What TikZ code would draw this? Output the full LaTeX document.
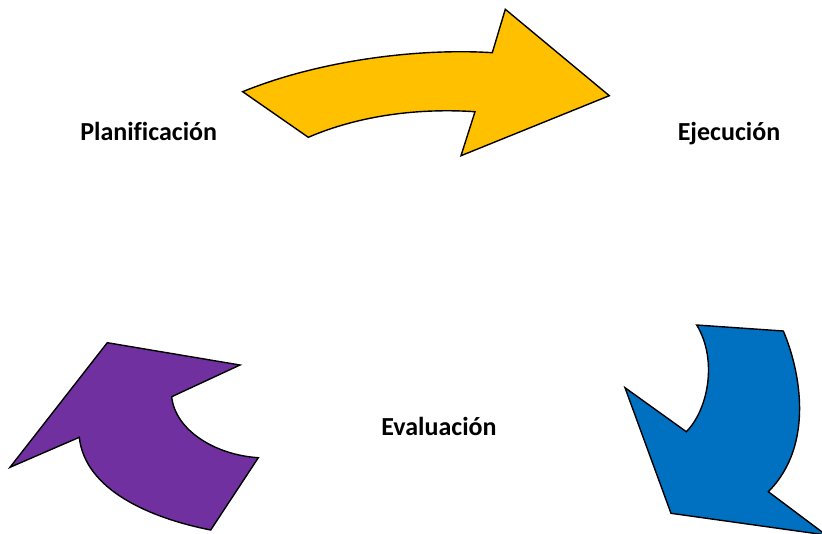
\documentclass[tikz,border=0pt]{standalone}
\usepackage{fontspec}
\setmainfont{Carlito}[Ligatures=NoCommon]
\usepackage{tikz}

\definecolor{amarillo}{HTML}{FFC000}
\definecolor{azul}{HTML}{0070C0}
\definecolor{morado}{HTML}{7030A0}

\begin{document}
\begin{tikzpicture}[x=1pt,y=-1pt]
        \useasboundingbox (0,0) rectangle (822,533);
        \tikzset{flecha/.style={draw=black, line width=1.4pt, line join=miter},
                 etapa/.style={anchor=base, font=\fontsize{26}{31}\selectfont\bfseries}}

        \node[etapa] (plan) at (148.7,140.7) {Planificación};
        \node[etapa] (ejec) at (729,140.7) {Ejecución};
        \node[etapa] (eval) at (439,435.7) {Evaluación};

        % planificacion -> ejecucion
        \draw[flecha, fill=amarillo] (242.7,91.7) -- (308.3,137.3)
            .. controls (360,115) and (420,108) .. (475,111.7)
            -- (461,155.7) -- (609.3,95.7) -- (505.3,9.3) -- (492.3,52.7)
            .. controls (420,48) and (320,60) .. cycle;
        % ejecucion -> evaluacion
        \draw[flecha, fill=azul] (696.7,325) -- (783.3,331)
            .. controls (800,370) and (815,445) .. (768.3,491.7)
            -- (826,535) -- (671,513.3) -- (625,387.7) -- (686.3,431.7)
            .. controls (708,410) and (718,360) .. cycle;
        % evaluacion -> planificacion
        \draw[flecha, fill=morado] (107.3,342.7) -- (240,365) -- (171.7,396.7)
            .. controls (175,430) and (215,455) .. (258.3,457.7)
            -- (210.7,530)
            .. controls (150,518) and (85,490) .. (79.3,437.3)
            -- (10,467.3) -- cycle;
    \end{tikzpicture}
\end{document}
